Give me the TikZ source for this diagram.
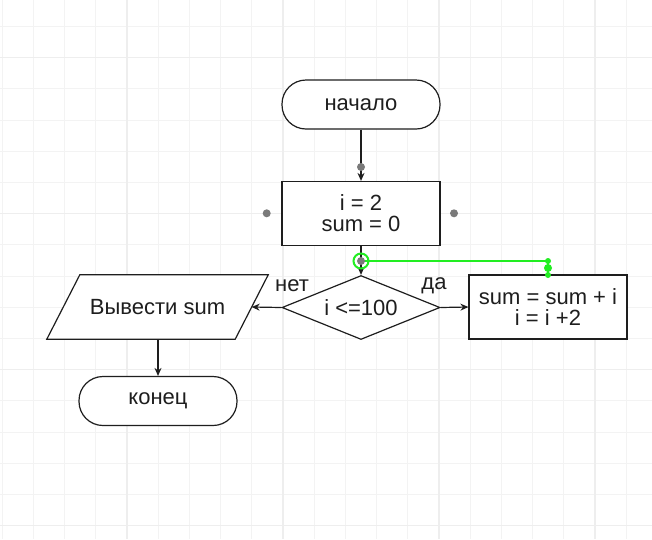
\documentclass[tikz,border=0pt]{standalone}
\usepackage{fontspec}
\setmainfont{Liberation Sans}
\usetikzlibrary{shapes.geometric,arrows.meta}
\definecolor{gridminor}{HTML}{F3F3F3}
\definecolor{gridmajor}{HTML}{EEEEEE}
\definecolor{edgecol}{HTML}{1E1E1E}
\definecolor{handlecol}{HTML}{7A7A7A}
\definecolor{selcol}{HTML}{22EE22}
\begin{document}
\begin{tikzpicture}[x=1pt,y=-1pt,
  every node/.style={font=\fontsize{22}{21}\selectfont, text=edgecol},
  base/.style={draw=edgecol, line width=1.2pt, fill=white, inner sep=0pt, align=center},
  terminal/.style={base, rectangle, rounded corners=24pt, minimum width=158pt, minimum height=49pt},
  procbox/.style={base, rectangle, minimum width=158pt, minimum height=64pt},
  decision/.style={base, diamond, aspect=2.5, minimum width=158pt, minimum height=64pt},
  iotext/.style={inner sep=0pt, minimum width=188pt, minimum height=64pt},
  ioshape/.style={draw=edgecol, line width=1.2pt, fill=white},
  flow/.style={draw=edgecol, line width=1.2pt, -{Stealth[length=8pt,width=7pt]}},
  lbl/.style={inner sep=0pt},
  handledot/.style={circle, fill=handlecol, inner sep=0pt, minimum size=8pt},
  selring/.style={circle, draw=selcol, line width=2pt, inner sep=0pt, minimum size=15pt},
  seldot/.style={circle, fill=selcol, inner sep=0pt, minimum size=#1},
  selline/.style={draw=selcol, line width=1.5pt},
  gridline/.style={draw=gridminor, line width=1pt},
  gridmaj/.style={draw=gridmajor, line width=1.2pt}
]
\useasboundingbox (0,0) rectangle (652,539);
\fill[white] (0,0) rectangle (652,539);
% grid
\foreach \k in {0,...,20} \draw[gridline] ({2.2+31.2*\k},0) -- ++(0,539);
\foreach \k in {0,...,16} \draw[gridline] (0,{26.5+31.2*\k}) -- ++(652,0);
\foreach \k in {4,9,14,19} \draw[gridmaj] ({2.2+31.2*\k},0) -- ++(0,539);
\foreach \k in {1,6,11,16} \draw[gridmaj] (0,{26.5+31.2*\k}) -- ++(652,0);
% nodes
\node[terminal] (start) at (361,104.5) {начало};
\node[procbox] (init) at (361,213.5) {i = 2\\sum = 0};
\node[decision] (cond) at (361,307.5) {i <=100};
\node[procbox] (body) at (548,307) {sum = sum + i\\i = i +2};
\path (157.5,307) node[iotext] (outbox) {};
\draw[ioshape] ([xshift=16.5pt]outbox.north west) -- ([xshift=16.5pt]outbox.north east)
  -- ([xshift=-16.5pt]outbox.south east) -- ([xshift=-16.5pt]outbox.south west) -- cycle;
\node[lbl] (out) at (outbox.center) {Вывести sum};
\node[terminal] (stop) at (158,401) {конец};
\node[lbl] (no) at (292,286) {нет};
\node[lbl] (yes) at (434,286) {да};
% connectors
\draw[flow] (start) -- (init);
\draw[flow] (init) -- (cond);
\draw[flow] (cond.east) -- (body.west);
\draw[flow] (cond.west) -- (outbox.east);
\draw[flow] (stop.north |- outbox.south) -- (stop.north);
% handles
\node[handledot] (h1) at (361,167) {};
\node[handledot] (h2) at (266.7,213.3) {};
\node[handledot] (h3) at (454,213.3) {};
\coordinate (g2) at (548,261);
\draw[selline] (361,261) -- (g2) -- (body.north);
\node[handledot] (h4) at (361,261) {};
\node[selring] (ring) at (h4) {};
\node[seldot=6pt] (d1) at (g2) {};
\node[seldot=8pt] (d2) at (548,268) {};
\node[seldot=6pt] (d3) at (548,275) {};
\end{tikzpicture}
\end{document}
